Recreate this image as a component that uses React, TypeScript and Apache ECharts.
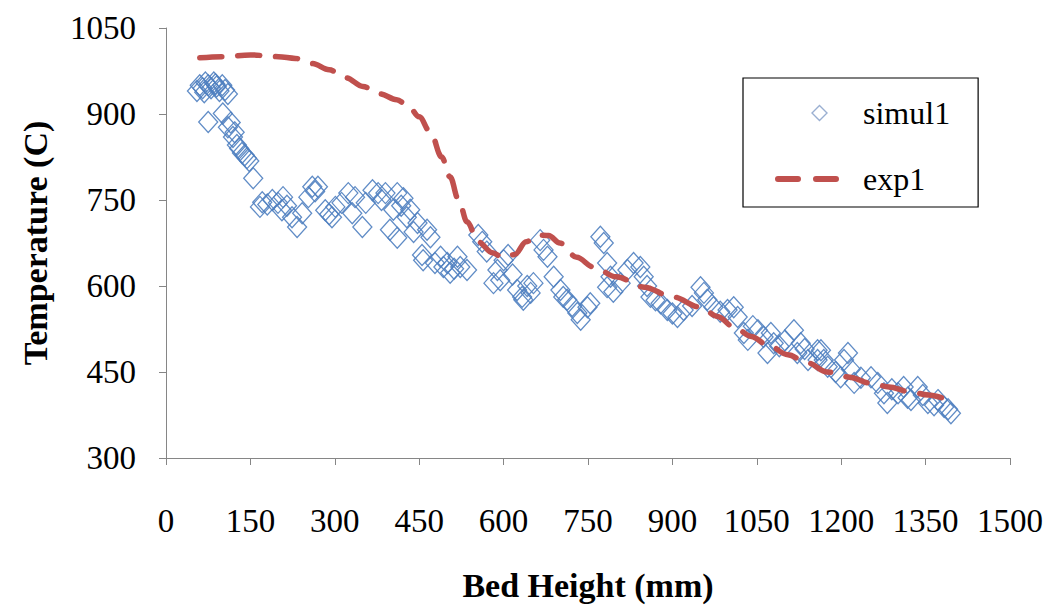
import React, { useEffect, useRef } from "react";
import * as echarts from "echarts";

// Bed height (mm) / temperature (C) pairs for the simulated profile
const simulHeight: number[] = [
  55, 60, 65, 70, 75, 80, 85, 90, 95, 100, 105, 110, 68, 88,
  75, 101, 110, 115, 119, 122, 126, 130, 135, 140, 144, 148,
  155, 167, 171, 180, 189, 199, 208, 206, 215, 224, 233, 242, 253, 260, 265, 270,
  283, 290, 295, 301, 312, 324, 331, 336, 349, 355, 367, 377, 383, 390,
  398, 404, 411, 411, 418, 422, 428, 434, 440, 447, 455, 457, 464, 470, 478,
  488, 493, 500, 505, 512, 518, 523, 535, 555, 562, 570, 582, 589, 594, 600,
  608, 616, 624, 633, 635, 642, 648, 653, 665, 671, 678, 689, 701, 706, 713,
  722, 731, 737, 749, 754, 772, 778, 784, 790, 784, 795, 808, 820, 831, 843,
  849, 855, 861, 870, 879, 891, 900, 909, 920, 935, 950, 956, 962, 973, 985,
  998, 1009, 1016, 1027, 1034, 1043, 1052, 1062, 1069, 1075, 1080, 1090, 1100,
  1116, 1122, 1128, 1135, 1141, 1158, 1164, 1158, 1169, 1176, 1190, 1199, 1205,
  1212, 1217, 1223, 1235, 1253, 1265, 1276, 1282, 1290, 1301, 1311, 1318, 1324,
  1336, 1345, 1354, 1365, 1372, 1383, 1390, 1395,
];
const simulTemp: number[] = [
  940, 950, 945, 955, 950, 945, 955, 948, 940, 950, 942, 935, 938, 952,
  886, 901, 877, 885, 860, 868, 846, 840, 832, 828, 823, 818,
  788, 738, 746, 742, 750, 745, 755, 732, 740, 720, 703, 727, 755, 773, 765, 773,
  732, 725, 720, 738, 745, 762, 727, 755, 703, 745, 767, 762, 750, 762,
  698, 733, 762, 684, 740, 753, 720, 733, 694, 710, 654, 645, 698, 685, 640,
  651, 633, 640, 623, 630, 651, 633, 628, 689, 677, 660, 605, 628, 610, 645,
  654, 620, 593, 581, 576, 600, 588, 605, 680, 663, 651, 616, 593, 581, 576,
  565, 553, 541, 563, 570, 686, 675, 640, 616, 598, 590, 605, 628, 640, 633,
  616, 600, 581, 575, 570, 558, 552, 546, 558, 565, 598, 588, 576, 563, 555,
  558, 563, 546, 518, 506, 530, 523, 511, 483, 518, 500, 495, 505,
  523, 483, 500, 490, 471, 488, 488, 471, 471, 459, 450, 441, 471,
  483, 455, 431, 440, 441, 431, 413, 396, 420, 413, 424, 405, 401,
  424, 410, 396, 392, 401, 389, 385, 378,
];

// Measured profile
const expHeight: number[] = [
  60, 100, 150, 200, 230, 260, 290, 320, 350, 380, 410, 430, 450, 470, 490,
  505, 520, 535, 555, 580, 600, 620, 640, 660, 680, 700, 730, 760, 800, 850,
  900, 950, 980, 1010, 1040, 1070, 1105, 1140, 1175, 1215, 1250, 1285, 1320,
  1355, 1385,
];
const expTemp: number[] = [
  998, 1000, 1003, 1000, 997, 988, 977, 963, 948, 935, 925, 915, 895, 868, 825,
  790, 750, 712, 677, 658, 649, 655, 677, 689, 688, 675, 650, 633, 616, 598,
  581, 563, 547, 528, 512, 497, 480, 466, 450, 441, 431, 424, 416,
  410, 403,
];

const xTicks = { min: 0, max: 1500, interval: 150 };
const yTicks = { min: 300, max: 1050, interval: 150 };

const FONT = "Liberation Serif";
const AXIS_GREY = "#868686";
const BLUE = "#4F7FC0";
const RED = "#C0504D";

// Diamond placed right of centre in a 63x15 legend box (the leading moves only widen the bounds)
const LEGEND_DIAMOND =
  "path://M0,0 M63,0 M63,15 M0,15 M41.5,0 L49,7.5 L41.5,15 L34,7.5 Z";

export default function App() {
  const ref = useRef<HTMLDivElement>(null);

  useEffect(() => {
    if (!ref.current) return;
    const chart = echarts.init(ref.current, undefined, { renderer: "svg" });

    const simulData = simulHeight.map((h, i) => [h, simulTemp[i]]);
    const expData = expHeight.map((h, i) => [h, expTemp[i]]);

    const plain = (v: number) => String(v);

    chart.setOption({
      animation: false,
      backgroundColor: "#ffffff",
      textStyle: { fontFamily: FONT },
      grid: { left: 166, right: 41, top: 28, bottom: 150, containLabel: false },
      legend: {
        orient: "vertical",
        left: 743,
        top: 78,
        padding: [19, 28, 12, 32],
        itemGap: 34,
        itemWidth: 63,
        itemHeight: 15,
        borderColor: "#000000",
        borderWidth: 1.2,
        backgroundColor: "#ffffff",
        textStyle: {
          fontFamily: FONT,
          fontSize: 32,
          color: "#000000",
          padding: [0, 0, 0, 17],
        },
        data: [
          {
            name: "simul1",
            icon: LEGEND_DIAMOND,
            itemStyle: { color: "rgba(255,255,255,0)", borderColor: "#8FA6CC", borderWidth: 1.4 },
          },
          {
            name: "exp1",
            itemStyle: { color: "rgba(0,0,0,0)", borderColor: "rgba(0,0,0,0)", borderWidth: 0 },
            lineStyle: { color: RED, width: 6, type: [20, 18], cap: "round" },
          },
        ],
      },
      xAxis: {
        type: "value",
        min: xTicks.min,
        max: xTicks.max,
        interval: xTicks.interval,
        name: "Bed Height (mm)",
        nameLocation: "middle",
        nameGap: 110,
        nameTextStyle: {
          fontFamily: FONT,
          fontSize: 34,
          fontWeight: "bold",
          color: "#000000",
        },
        axisLine: { show: true, lineStyle: { color: AXIS_GREY, width: 1 } },
        axisTick: { show: true, inside: false, length: 7, lineStyle: { color: AXIS_GREY } },
        axisLabel: {
          fontFamily: FONT,
          fontSize: 33,
          color: "#000000",
          margin: 46,
          formatter: plain,
        },
        splitLine: { show: false },
      },
      yAxis: {
        type: "value",
        min: yTicks.min,
        max: yTicks.max,
        interval: yTicks.interval,
        name: "Temperature (C)",
        nameLocation: "middle",
        nameGap: 114,
        nameTextStyle: {
          fontFamily: FONT,
          fontSize: 34,
          fontWeight: "bold",
          color: "#000000",
        },
        axisLine: { show: true, lineStyle: { color: AXIS_GREY, width: 1 } },
        axisTick: { show: true, inside: false, length: 7, lineStyle: { color: AXIS_GREY } },
        axisLabel: {
          fontFamily: FONT,
          fontSize: 33,
          color: "#000000",
          margin: 30,
          formatter: plain,
        },
        splitLine: { show: false },
      },
      series: [
        {
          name: "simul1",
          type: "scatter",
          symbol: "diamond",
          symbolSize: [19, 21],
          data: simulData,
          itemStyle: {
            color: "rgba(255,255,255,0)",
            borderColor: BLUE,
            borderWidth: 1.3,
            opacity: 0.9,
          },
          z: 2,
        },
        {
          name: "exp1",
          type: "line",
          data: expData,
          symbol: "none",
          showSymbol: false,
          smooth: 0.35,
          smoothMonotone: "x",
          lineStyle: {
            color: RED,
            width: 5.5,
            type: [22, 16],
            cap: "round",
          },
          itemStyle: { color: RED },
          z: 3,
        },
      ],
    });

    return () => chart.dispose();
  }, []);

  return (
    <div
      ref={ref}
      style={{ position: "fixed", left: 0, top: 0, width: 1051, height: 608 }}
    />
  );
}
